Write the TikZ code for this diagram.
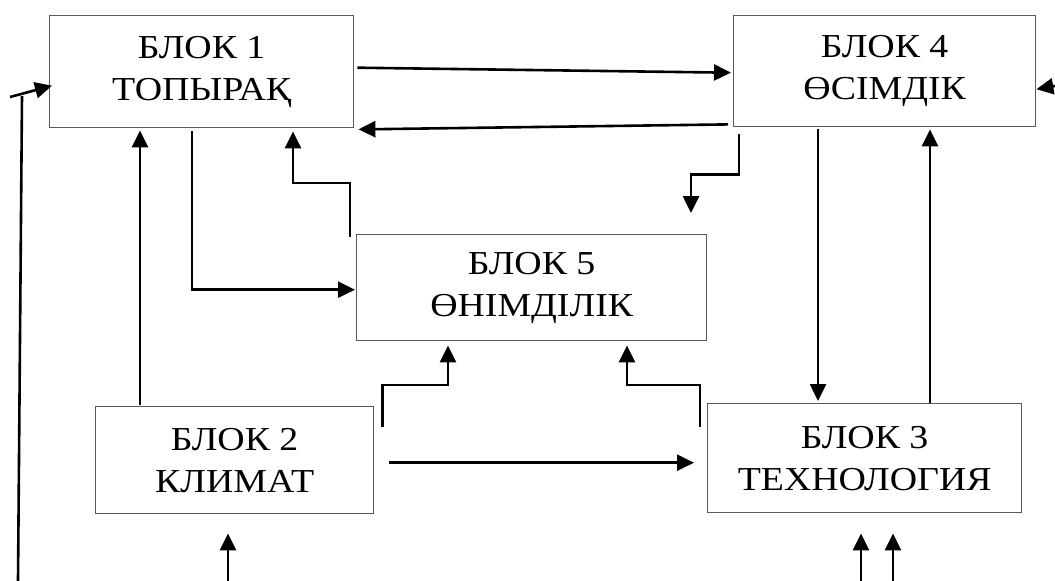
\documentclass[tikz,border=0pt]{standalone}
\usepackage{fontspec}
\setmainfont{Liberation Serif}[FakeStretch=1.13]
\usetikzlibrary{arrows.meta,calc}
\begin{document}
\begin{tikzpicture}[x=1pt,y=-1pt,
  box/.style={draw=black!65,line width=1.4pt,rectangle,anchor=north west,inner sep=0pt,
    font=\fontsize{33.5}{42}\selectfont,align=center},
  arr/.style={line width=2.6pt,-{Triangle[length=17pt,width=16pt]}},
  ln/.style={line width=2.6pt}]
\useasboundingbox (0,0) rectangle (1055,581);
\node[box,minimum width=304pt,minimum height=112pt] (b1) at (49,15) {БЛОК 1\\ТОПЫРАҚ};
\node[box,minimum width=302pt,minimum height=111pt] (b4) at (733,15) {БЛОК 4\\ӨСІМДІК};
\node[box,minimum width=350pt,minimum height=106pt] (b5) at (356,234) {БЛОК 5\\ӨНІМДІЛІК};
\node[box,minimum width=278pt,minimum height=107pt] (b2) at (95,406) {БЛОК 2\\КЛИМАТ};
\node[box,minimum width=314pt,minimum height=109pt] (b3) at (707,403) {БЛОК 3\\ТЕХНОЛОГИЯ};
% top arrows
\draw[arr] ($(b1.east)+(3,-4)$) -- ($(b4.west)+(-2,1.5)$);
\draw[arr] ($(b4.south west)+(-5,-3)$) -- ($(b1.south east)+(4,1)$);
% b1 -> b5
\draw[arr] ($(b1.south west)+(143,3)$) |- ($(b5.west)+(-1,2)$);
% b2 -> b1
\draw[arr] ($(b2.north west)+(45,-1)$) -- ($(b1.south west)+(91,2)$);
% b5 -> b1
\draw[arr] ($(b5.north west)+(-6,3)$) -- ++(0,-54) -| ($(b1.south west)+(244,3)$);
% b4 -> down
\draw[arr] ($(b4.south west)+(6,7)$) -- ++(0,40) -| ($(b5.north west)+(335,-21)$);
% b4 <-> b3
\draw[arr] ($(b4.south west)+(85,2)$) -- ($(b3.north west)+(111,-2)$);
\draw[arr] ($(b3.north west)+(223,0)$) -- ($(b4.south west)+(197,2)$);
% b2 -> b3
\draw[arr] ($(b2.east)+(15,2.5)$) -- ($(b3.west)+(-13,4.5)$);
% b2 -> b5, b3 -> b5
\draw[arr] ($(b2.north east)+(8,21)$) -- ++(0,-42) -| ($(b5.south west)+(92,4)$);
\draw[arr] ($(b3.north west)+(-7,24)$) -- ++(0,-42) -| ($(b5.south west)+(271,4)$);
% left inputs
\coordinate (lb) at (18,581);
\coordinate (ltop) at (22,96);
\coordinate (lt) at (10,97);
\draw[ln] (lb) -- (ltop);
\draw[arr] (lt) -- ($(b1.west)+(3,14)$);
% right input
\coordinate (rt) at (1055,86);
\draw[arr] (rt) -- ($(b4.east)+(0,18)$);
% bottom inputs
\coordinate (in2) at (228,581);
\coordinate (in3a) at (861,581);
\coordinate (in3b) at (893,581);
\draw[arr] (in2) -- ($(b2.south west)+(133,19)$);
\draw[arr] (in3a) -- ($(b3.south west)+(154,20)$);
\draw[arr] (in3b) -- ($(b3.south west)+(186,20)$);
\end{tikzpicture}
\end{document}
